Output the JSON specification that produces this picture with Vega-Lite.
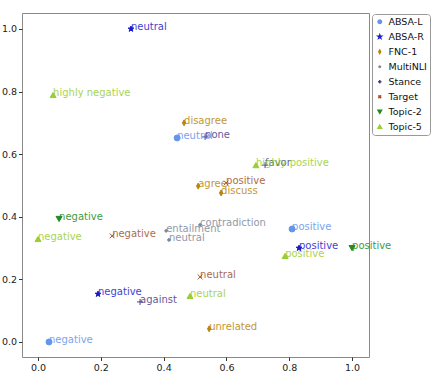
{
  "$schema": "https://vega.github.io/schema/vega-lite/v6.json",
  "width": 347,
  "height": 344,
  "autosize": {"type": "none"},
  "padding": {"left": 22, "top": 13, "right": 62, "bottom": 19},
  "background": "white",
  "config": {
    "view": {"stroke": "#8a8a8a", "strokeWidth": 1},
    "font": "DejaVu Sans",
    "axis": {
      "domain": false, "grid": false, "tickColor": "#333", "tickSize": 3.5,
      "labelFont": "DejaVu Sans", "labelFontSize": 9.5, "labelColor": "#222", "labelPadding": 2, "title": null
    }
  },
  "data": {
    "values": [
      {"dataset": "ABSA-L", "label": "neutral", "x": 0.443, "y": 0.652},
      {"dataset": "ABSA-L", "label": "positive", "x": 0.809, "y": 0.361},
      {"dataset": "ABSA-L", "label": "negative", "x": 0.035, "y": 0.0},
      {"dataset": "ABSA-R", "label": "neutral", "x": 0.296, "y": 1.0},
      {"dataset": "ABSA-R", "label": "negative", "x": 0.191, "y": 0.153},
      {"dataset": "ABSA-R", "label": "positive", "x": 0.831, "y": 0.30},
      {"dataset": "FNC-1", "label": "disagree", "x": 0.465, "y": 0.70},
      {"dataset": "FNC-1", "label": "agree", "x": 0.51, "y": 0.498},
      {"dataset": "FNC-1", "label": "discuss", "x": 0.583, "y": 0.476},
      {"dataset": "FNC-1", "label": "unrelated", "x": 0.545, "y": 0.042},
      {"dataset": "MultiNLI", "label": "entailment", "x": 0.408, "y": 0.355},
      {"dataset": "MultiNLI", "label": "neutral", "x": 0.417, "y": 0.326},
      {"dataset": "MultiNLI", "label": "contradiction", "x": 0.516, "y": 0.374},
      {"dataset": "Stance", "label": "none", "x": 0.532, "y": 0.655},
      {"dataset": "Stance", "label": "favor", "x": 0.723, "y": 0.565},
      {"dataset": "Stance", "label": "against", "x": 0.325, "y": 0.128},
      {"dataset": "Target", "label": "negative", "x": 0.236, "y": 0.339},
      {"dataset": "Target", "label": "neutral", "x": 0.516, "y": 0.208},
      {"dataset": "Target", "label": "positive", "x": 0.599, "y": 0.508},
      {"dataset": "Topic-2", "label": "negative", "x": 0.067, "y": 0.393},
      {"dataset": "Topic-2", "label": "positive", "x": 1.0, "y": 0.30},
      {"dataset": "Topic-5", "label": "highly negative", "x": 0.048, "y": 0.789},
      {"dataset": "Topic-5", "label": "negative", "x": 0.0, "y": 0.329},
      {"dataset": "Topic-5", "label": "neutral", "x": 0.484, "y": 0.147},
      {"dataset": "Topic-5", "label": "highly positive", "x": 0.694, "y": 0.565},
      {"dataset": "Topic-5", "label": "positive", "x": 0.787, "y": 0.275}
    ]
  },
  "encoding": {
    "x": {"field": "x", "type": "quantitative", "scale": {"domain": [-0.051, 1.054], "nice": false, "zero": false},
      "axis": {"values": [0, 0.2, 0.4, 0.6, 0.8, 1.0], "format": ".1f"}},
    "y": {"field": "y", "type": "quantitative", "scale": {"domain": [-0.048, 1.051], "nice": false, "zero": false},
      "axis": {"values": [0, 0.2, 0.4, 0.6, 0.8, 1.0], "format": ".1f"}}
  },
  "layer": [
    {
      "mark": {"type": "point", "filled": true, "size": 36, "strokeWidth": 1, "opacity": 1},
      "encoding": {
        "color": {"field": "dataset", "type": "nominal",
          "scale": {"domain": ["ABSA-L", "ABSA-R", "FNC-1", "MultiNLI", "Stance", "Target", "Topic-2", "Topic-5"],
            "range": ["#6495ED", "#1a1acc", "#B8860B", "#7f8899", "#483D8B", "#A0522D", "#228B22", "#9ACD32"]},
          "legend": {"title": null, "orient": "none", "legendX": 350, "legendY": 1, "labelFontSize": 9.5, "labelFont": "DejaVu Sans",
            "labelColor": "#111", "symbolSize": 12, "rowPadding": 4, "padding": 3, "strokeColor": "#999", "cornerRadius": 3, "fillColor": "white", "labelOffset": 4, "symbolOffset": 0}},
        "stroke": {"field": "dataset", "type": "nominal",
          "scale": {"domain": ["ABSA-L", "ABSA-R", "FNC-1", "MultiNLI", "Stance", "Target", "Topic-2", "Topic-5"],
            "range": ["#6495ED", "#1a1acc", "#B8860B", "#7f8899", "#483D8B", "#A0522D", "#228B22", "#9ACD32"]}},
        "shape": {"field": "dataset", "type": "nominal",
          "scale": {"domain": ["ABSA-L", "ABSA-R", "FNC-1", "MultiNLI", "Stance", "Target", "Topic-2", "Topic-5"],
            "range": ["circle",
              "M0,-1L0.235,-0.324L0.951,-0.309L0.380,0.124L0.588,0.809L0,0.4L-0.588,0.809L-0.380,0.124L-0.951,-0.309L-0.235,-0.324Z",
              "M0,-1L0.55,0L0,1L-0.55,0Z",
              "M0,-0.45A0.45,0.45 0 1,1 0,0.45A0.45,0.45 0 1,1 0,-0.45Z",
              "M-1,0L1,0M0,-1L0,1",
              "M-0.8,-0.8L0.8,0.8M-0.8,0.8L0.8,-0.8",
              "triangle-down", "triangle-up"]}}
      }
    },
    {
      "mark": {"type": "text", "align": "left", "baseline": "alphabetic", "dy": 1, "fontSize": 10, "font": "DejaVu Sans", "opacity": 0.85},
      "encoding": {
        "text": {"field": "label"},
        "color": {"field": "dataset", "type": "nominal"}
      }
    }
  ]
}
